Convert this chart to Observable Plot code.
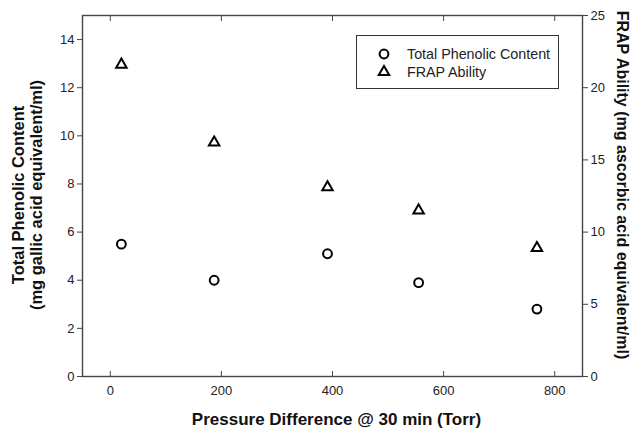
<!DOCTYPE html>
<html>
<head>
<meta charset="utf-8">
<script src="https://cdn.jsdelivr.net/npm/d3@7"></script>
<script src="https://cdn.jsdelivr.net/npm/@observablehq/plot@0.6"></script>
<style>
  html, body { margin: 0; padding: 0; background: white; }
  #wrap { position: relative; width: 634px; height: 432px; font-family: "Liberation Sans", Arial, sans-serif; }
  #legend { position: absolute; left: 356px; top: 35px; width: 203px; height: 54px; border: 1.3px solid #333; box-sizing: border-box; background: white; }
  #legend svg { position: absolute; left: 0; top: 0; }
</style>
</head>
<body>
<div id="wrap"></div>
<script>
// Data
const pressure = [20, 187, 391, 555, 768];          // Pressure Difference @ 30 min (Torr)
const phenolic = [5.5, 4.0, 5.1, 3.9, 2.8];          // Total Phenolic Content (left axis)
const frap = [21.6, 16.2, 13.1, 11.5, 8.9];          // FRAP Ability (right axis)
const xTicks = [0, 200, 400, 600, 800];
const leftTicks = [0, 2, 4, 6, 8, 10, 12, 14];
const rightTicks = [0, 5, 10, 15, 20, 25];
const seriesNames = ["Total Phenolic Content", "FRAP Ability"];
const xLabel = "Pressure Difference @ 30 min (Torr)";
const yLeftLabel = "Total Phenolic Content\n(mg gallic acid equivalent/ml)";
const yRightLabel = "FRAP Ability (mg ascorbic acid equivalent/ml)";

const leftMax = 15, rightMax = 25;
const k = leftMax / rightMax; // map right-axis values onto left scale

const phenolicData = pressure.map((p, i) => ({p, v: phenolic[i]}));
const frapData = pressure.map((p, i) => ({p, v: frap[i] * k}));

const font = "'Liberation Sans', Arial, sans-serif";

const chart = Plot.plot({
  width: 634,
  height: 432,
  marginLeft: 82,
  marginRight: 52,
  marginTop: 15,
  marginBottom: 56,
  style: {fontFamily: font, fontSize: "13px", color: "#222", background: "white", overflow: "visible"},
  x: {domain: [-50, 850]},
  y: {domain: [0, leftMax]},
  marks: [
    Plot.frame({stroke: "#444", strokeWidth: 1.4}),
    Plot.axisX(xTicks, {anchor: "bottom", tickSize: 5, dy: -5, tickPadding: 9, label: null, stroke: "#444", fill: "#222", fontSize: 13}),
    Plot.axisX(xTicks, {anchor: "top", tickSize: 5, dy: 5, tickFormat: () => "", label: null, stroke: "#444"}),
    Plot.axisY(leftTicks, {anchor: "left", tickSize: 5, tickPadding: 3, label: null, stroke: "#444", fill: "#222", fontSize: 13}),
    Plot.axisY(rightTicks.map(v => v * k), {anchor: "right", tickSize: 5, tickPadding: 3, tickFormat: d => String(Math.round(d / k)), label: null, stroke: "#444", fill: "#222", fontSize: 13}),
    Plot.dot(phenolicData, {x: "p", y: "v", symbol: "circle", r: 4.4, stroke: "black", strokeWidth: 2, fill: "none"}),
    Plot.dot(frapData, {x: "p", y: "v", symbol: "triangle", r: 3.9, stroke: "black", strokeWidth: 2, fill: "none"}),
    Plot.text([yLeftLabel], {text: d => d, frameAnchor: "left", textAnchor: "middle", rotate: -90, dx: -55, dy: -1, fontSize: 16.5, fontWeight: "bold", lineHeight: 1.05, fill: "#111"}),
    Plot.text([yRightLabel], {text: d => d, frameAnchor: "right", textAnchor: "middle", rotate: 90, dx: 40, dy: -11, fontSize: 16, fontWeight: "bold", fill: "#111"}),
    Plot.text([xLabel], {text: d => d, frameAnchor: "bottom", dy: 48, dx: 4, fontSize: 17, fontWeight: "bold", fill: "#111"})
  ]
});

const wrap = document.getElementById("wrap");
wrap.appendChild(chart);

// Legend (inside the plot area, top-right)
const legend = document.createElement("div");
legend.id = "legend";
const ns = "http://www.w3.org/2000/svg";
const lsvg = document.createElementNS(ns, "svg");
lsvg.setAttribute("width", 203);
lsvg.setAttribute("height", 54);
const symbols = [d3.symbolCircle, d3.symbolTriangle];
const sizes = [Math.PI * 4.4 * 4.4, Math.PI * 3.9 * 3.9];
seriesNames.forEach((name, i) => {
  const cy = 18 + i * 18;
  const path = document.createElementNS(ns, "path");
  path.setAttribute("d", d3.symbol(symbols[i], sizes[i])());
  path.setAttribute("transform", `translate(27,${cy})`);
  path.setAttribute("fill", "none");
  path.setAttribute("stroke", "black");
  path.setAttribute("stroke-width", 2);
  lsvg.appendChild(path);
  const t = document.createElementNS(ns, "text");
  t.setAttribute("x", 50);
  t.setAttribute("y", cy);
  t.setAttribute("dy", "0.35em");
  t.setAttribute("font-size", 14.3);
  t.setAttribute("font-family", font);
  t.setAttribute("fill", "#222");
  t.textContent = name;
  lsvg.appendChild(t);
});
legend.appendChild(lsvg);
wrap.appendChild(legend);
</script>
</body>
</html>
